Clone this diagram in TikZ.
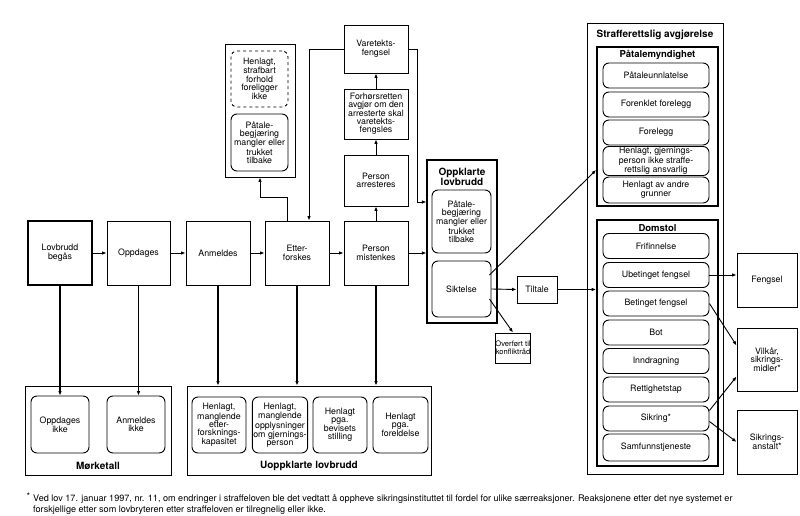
\documentclass[tikz,border=0pt]{standalone}
\usepackage{fontspec}
\setmainfont{TeX Gyre Heros}
\usetikzlibrary{arrows.meta,calc}
\begin{document}
\begin{tikzpicture}[x=1pt,y=-1pt,
 lab/.style={font=\fontsize{8.8}{8.6}\selectfont, align=center, inner sep=1pt},
 tight/.style={font=\fontsize{8.8}{8}\selectfont},
 box/.style={lab, draw, line width=0.9pt, rectangle},
 rbox/.style={box, rounded corners=6pt},
 grp/.style={draw, line width=0.9pt, inner sep=0pt, rectangle},
 thickgrp/.style={grp, line width=1.8pt},
 ttl/.style={font=\fontsize{10}{10.5}\selectfont\bfseries, align=center, inner sep=0pt},
 sttl/.style={font=\fontsize{9.5}{10}\selectfont\bfseries, align=center, inner sep=0pt},
 arr/.style={-{Latex[length=4.5pt,width=3.6pt]}, line width=0.9pt},
 varr/.style={arr, line width=1.5pt},
]
\fill[white] (0,0) rectangle (800,516);
\useasboundingbox (0,0) rectangle (800,516);

% main row
\node[box, line width=2pt, minimum width=64pt, minimum height=64pt] (lov) at (60,253) {Lovbrudd\\begås};
\node[box, minimum width=63pt, minimum height=64pt] (opp) at (138.5,253) {Oppdages};
\node[box, minimum width=64pt, minimum height=64pt] (anm) at (218,253) {Anmeldes};
\node[box, minimum width=64pt, minimum height=64pt] (ett) at (297,253) {Etter-\\forskes};
\node[box, minimum width=64pt, minimum height=64pt] (mist) at (376,253) {Person\\mistenkes};
\node[box, minimum width=64pt, minimum height=51pt] (arr) at (376,180.5) {Person\\arresteres};
\node[box, tight, minimum width=64pt, minimum height=50pt] (forh) at (376,114) {Forhørsretten\\avgjør om den\\arresterte skal\\varetekts-\\fengsles};
\node[box, minimum width=64pt, minimum height=48pt] (vare) at (376,49) {Varetekts-\\fengsel};

% henlagt group (top left)
\node[grp, minimum width=70pt, minimum height=133pt] (hen) at (260,110.5) {};
\node[rbox, dashed, minimum width=57pt, minimum height=56pt] (henA) at (259.5,79) {Henlagt,\\strafbart\\forhold\\foreligger\\ikke};
\node[rbox, tight, minimum width=57pt, minimum height=57pt] (henB) at (259.5,142.5) {Påtale-\\begjæring\\mangler eller\\trukket\\tilbake};

% oppklarte
\node[grp, line width=1.2pt, minimum width=70pt, minimum height=163pt] (oppk) at (462,241.5) {};
\node[ttl] (oppkT) at (462,177) {Oppklarte\\lovbrudd};
\node[rbox, tight, minimum width=59pt, minimum height=63pt] (pa) at (461.5,221.5) {Påtale-\\begjæring\\mangler eller\\trukket\\tilbake};
\node[rbox, minimum width=59pt, minimum height=56pt] (sik) at (461.5,289) {Siktelse};
\node[box, minimum width=40pt, minimum height=27pt] (tilt) at (537,289.5) {Tiltale};
\node[box, font=\fontsize{7.6}{8}\selectfont, inner sep=0pt, minimum width=34pt, minimum height=30pt] (konf) at (513,348) {Overført til\\konfliktråd};

% strafferettslig avgjørelse
\node[grp, minimum width=136pt, minimum height=451pt] (straff) at (655,248.5) {};
\node[ttl] (straffT) at (655,35) {Strafferettslig avgjørelse};
\node[thickgrp, minimum width=121pt, minimum height=159pt] (pm) at (657.5,126.5) {};
\node[sttl] (pmT) at (657.5,55) {Påtalemyndighet};
\node[rbox, minimum width=106pt, minimum height=25pt] (pu) at (656,75.5) {Påtaleunnlatelse};
\node[rbox, minimum width=106pt, minimum height=25pt] (ff) at (656,104.5) {Forenklet forelegg};
\node[rbox, minimum width=106pt, minimum height=25pt] (fo) at (656,132.5) {Forelegg};
\node[rbox, font=\fontsize{8.8}{8.2}\selectfont, minimum width=106pt, minimum height=25pt] (hg) at (656,161) {Henlagt, gjernings-\\person ikke straffe-\\rettslig ansvarlig};
\node[rbox, minimum width=106pt, minimum height=26pt] (ha) at (656,190) {Henlagt av andre\\grunner};

\node[thickgrp, minimum width=121pt, minimum height=246pt] (dom) at (657.5,343) {};
\node[sttl] (domT) at (657.5,228) {Domstol};
\node[rbox, minimum width=106pt, minimum height=25pt] (fri) at (656,246) {Frifinnelse};
\node[rbox, minimum width=106pt, minimum height=25pt] (ubet) at (656,275) {Ubetinget fengsel};
\node[rbox, minimum width=106pt, minimum height=25pt] (bet) at (656,303.5) {Betinget fengsel};
\node[rbox, minimum width=106pt, minimum height=25pt] (bot) at (656,332.5) {Bot};
\node[rbox, minimum width=106pt, minimum height=25pt] (inn) at (656,361) {Inndragning};
\node[rbox, minimum width=106pt, minimum height=25pt] (ret) at (656,389.5) {Rettighetstap};
\node[rbox, minimum width=106pt, minimum height=25pt] (sikr) at (656,418.5) {Sikring*};
\node[rbox, minimum width=106pt, minimum height=27pt] (samf) at (656,447.5) {Samfunnstjeneste};

% right boxes
\node[box, minimum width=60pt, minimum height=54pt] (feng) at (767,280) {Fengsel};
\node[box, minimum width=60pt, minimum height=63pt] (vilk) at (767,359.5) {Vilkår,\\sikrings-\\midler*};
\node[box, minimum width=60pt, minimum height=64pt] (sanst) at (767,442) {Sikrings-\\anstalt*};

% bottom groups
\node[grp, minimum width=146pt, minimum height=89pt] (mork) at (98,430.5) {};
\node[rbox, minimum width=58pt, minimum height=57pt] (oi) at (60,424.5) {Oppdages\\ikke};
\node[rbox, minimum width=58pt, minimum height=57pt] (ai) at (136,424.5) {Anmeldes\\ikke};
\node[ttl] (morkT) at (98,466) {Mørketall};

\node[grp, minimum width=244pt, minimum height=89pt] (uopp) at (309,430.5) {};
\node[rbox, tight, minimum width=54pt, minimum height=56pt] (u1) at (219,425) {Henlagt,\\manglende\\etter-\\forsknings-\\kapasitet};
\node[rbox, tight, minimum width=54pt, minimum height=56pt] (u2) at (280,425) {Henlagt,\\manglende\\opplysninger\\om gjernings-\\person};
\node[rbox, tight, minimum width=54pt, minimum height=56pt] (u3) at (340,425) {Henlagt\\pga.\\bevisets\\stilling};
\node[rbox, tight, minimum width=55pt, minimum height=56pt] (u4) at (400.5,425) {Henlagt\\pga.\\foreldelse};
\node[ttl] (uoppT) at (309,466) {Uoppklarte lovbrudd};

% footnote
\node[anchor=north west, align=left, inner sep=0pt, font=\fontsize{9.1}{11}\selectfont] (fn) at (33,493)
 {\llap{\raisebox{1.5pt}{*}\hspace{3pt}}Ved lov 17. januar 1997, nr. 11, om endringer i straffeloven ble det vedtatt å oppheve sikringsinstituttet til fordel for ulike særreaksjoner. Reaksjonene etter det nye systemet er\\forskjellige etter som lovbryteren etter straffeloven er tilregnelig eller ikke.};

% connectors: main row
\draw[arr] (lov.east) -- (opp.west);
\draw[arr] (opp.east) -- (anm.west);
\draw[arr] (anm.east) -- (ett.west);
\draw[arr] (ett.east) -- (mist.west);
\draw[arr] (mist.east) -- (mist.east -| oppk.west);

% down to bottom groups
\draw[varr] (lov.south) -- (oi.north);
\draw[varr] (opp.south) -- (opp.south |- ai.north);
\draw[varr] (anm.south) -- (anm.south |- uopp.north);
\draw[varr] (ett.south) -- (ett.south |- uopp.north);
\draw[varr] (mist.south) -- (mist.south |- uopp.north);

% upward chain
\draw[arr] (mist.north) -- (arr.south);
\draw[arr] (arr.north) -- (forh.south);
\draw[arr] (forh.north) -- (vare.south);

% etterforskes to henlagt group
\coordinate (c1) at (287,197);
\draw[arr] (ett.north -| c1) -- (c1) -| (hen.south);

% varetekt loops
\coordinate (c2) at (309,49);
\draw[arr] (vare.west) -- (c2) -- (c2 |- ett.north);
\coordinate (c3a) at (417,49);
\coordinate (c3) at (417,202);
\draw[arr] (vare.east) -- (c3a) -- (c3) -- (c3 -| oppk.west);

% siktelse
\draw[arr] (sik.east) -- (tilt.west);
\draw[arr] (tilt.east) -- (tilt.east -| dom.west);
\draw[arr] ($(sik.east)+(-2,10)$) -- (konf.north);
\coordinate (c4) at ($(pm.west)+(0,43.5)$);
\draw[arr] ($(sik.east)+(-2,-14)$) -- (c4);

% domstol outcomes
\draw[arr] (ubet.east) -- (ubet.east -| feng.west);
\draw[arr] (bet.east) -- ($(vilk.west)+(0,-14)$);
\draw[arr] ($(sikr.east)+(0,-8)$) -- ($(vilk.west)+(0,17)$);
\draw[arr] ($(sikr.east)+(0,3)$) -- (sanst.west);
\end{tikzpicture}
\end{document}
